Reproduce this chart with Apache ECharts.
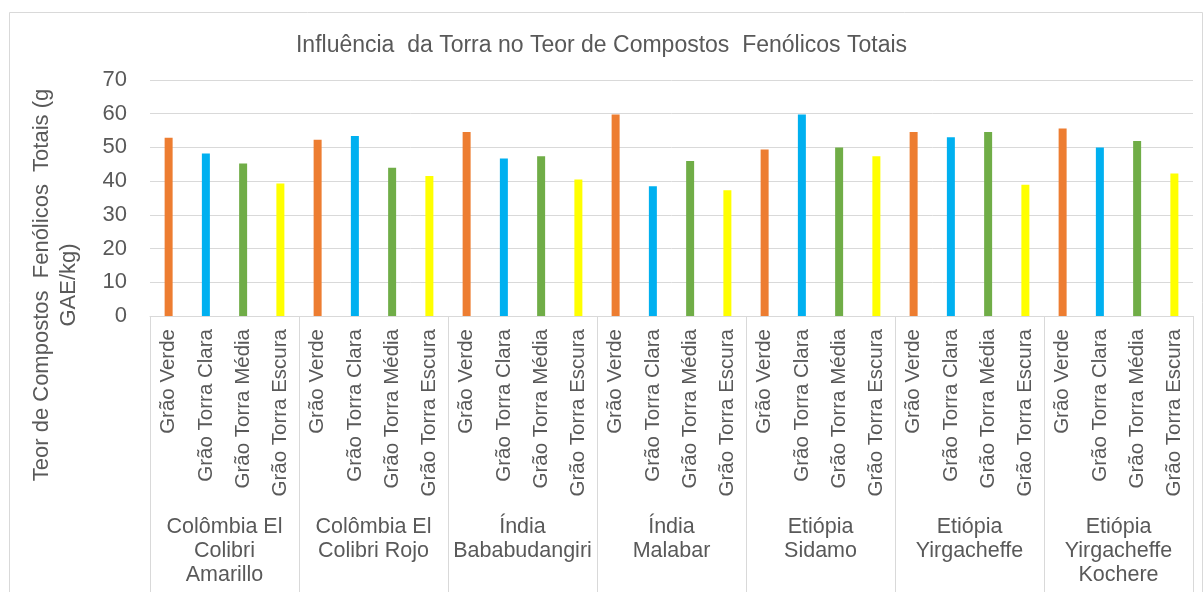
<!DOCTYPE html>
<html>
<head>
<meta charset="utf-8">
<script src="https://cdn.jsdelivr.net/npm/echarts@6/dist/echarts.min.js"></script>
<style>
  html, body { margin: 0; padding: 0; background: #fff; }
  #chart { width: 1203px; height: 592px; }
</style>
</head>
<body>
<div id="chart"></div>
<script>
// origem dos cafés (grupos do eixo x)
const groups = [
  'Colômbia El\nColibri\nAmarillo',
  'Colômbia El\nColibri Rojo',
  'Índia\nBababudangiri',
  'Índia\nMalabar',
  'Etiópia\nSidamo',
  'Etiópia\nYirgacheffe',
  'Etiópia\nYirgacheffe\nKochere'
]
const roasts = ['Grão Verde', 'Grão Torra Clara', 'Grão Torra Média', 'Grão Torra Escura']

// g GAE/kg
const verde  = [52.9, 52.3, 54.6, 59.8, 49.4, 54.6, 55.6]
const clara  = [48.2, 53.4, 46.7, 38.5, 59.8, 53.0, 50.0]
const media  = [45.2, 44.0, 47.4, 46.0, 50.0, 54.6, 51.9]
const escura = [39.3, 41.5, 40.5, 37.3, 47.4, 38.9, 42.3]

const yTicks = [0, 10, 20, 30, 40, 50, 60, 70]
const colors = ['#ED7D31', '#00B0F0', '#70AD47', '#FFFF00']

const font = 'Liberation Sans, Arial, sans-serif'
const textColor = '#595959'
const lineColor = '#d9d9d9'

let categories = []
let values = []
const byRoast = [verde, clara, media, escura]
groups.forEach((g, gi) => {
  roasts.forEach((r, ri) => {
    categories.push(r)
    values.push({
      value: byRoast[ri][gi],
      itemStyle: { color: colors[ri] }
    })
  })
})

const chart = echarts.init(document.getElementById('chart'), null, { renderer: 'canvas' })

chart.setOption({
  animation: false,
  backgroundColor: '#fff',
  textStyle: { fontFamily: font },
  title: {
    text: 'Influência  da Torra no Teor de Compostos  Fenólicos Totais',
    left: 'center',
    top: 29,
    textStyle: {
      fontFamily: font,
      fontSize: 23,
      fontWeight: 'normal',
      color: textColor
    }
  },
  graphic: [
    {
      type: 'rect',
      left: 7,
      top: 10,
      shape: { width: 1193, height: 600 },
      style: { fill: 'none', stroke: lineColor, lineWidth: 1 },
      silent: true
    },
    {
      type: 'text',
      x: 55,
      y: 285,
      rotation: Math.PI / 2,
      style: {
        text: 'Teor de Compostos  Fenólicos  Totais (g\nGAE/kg)',
        fontFamily: font,
        fontSize: 22,
        lineHeight: 27,
        fill: textColor,
        align: 'center',
        verticalAlign: 'middle'
      }
    }
  ],
  grid: {
    left: 150,
    right: 10,
    top: 80,
    bottom: 276
  },
  xAxis: [
    {
      type: 'category',
      data: categories,
      axisLine: { lineStyle: { color: lineColor } },
      axisTick: { show: false },
      axisLabel: {
        interval: 0,
        rotate: 90,
        margin: 13,
        fontFamily: font,
        fontSize: 20.5,
        color: textColor
      }
    },
    {
      type: 'category',
      data: groups,
      position: 'bottom',
      offset: 0,
      axisLine: { show: false },
      axisTick: {
        show: true,
        length: 290,
        lineStyle: { color: lineColor }
      },
      axisLabel: {
        interval: 0,
        margin: 199,
        fontFamily: font,
        fontSize: 21.5,
        lineHeight: 24,
        color: textColor,
        align: 'center'
      }
    }
  ],
  yAxis: {
    type: 'value',
    min: yTicks[0],
    max: yTicks[yTicks.length - 1],
    interval: 10,
    axisLine: { show: false },
    axisTick: { show: false },
    splitLine: { lineStyle: { color: lineColor } },
    axisLabel: {
      margin: 23,
      fontFamily: font,
      fontSize: 22,
      color: textColor
    }
  },
  series: [
    {
      type: 'bar',
      data: values,
      barWidth: 8,
      xAxisIndex: 0
    }
  ]
})
</script>
</body>
</html>
